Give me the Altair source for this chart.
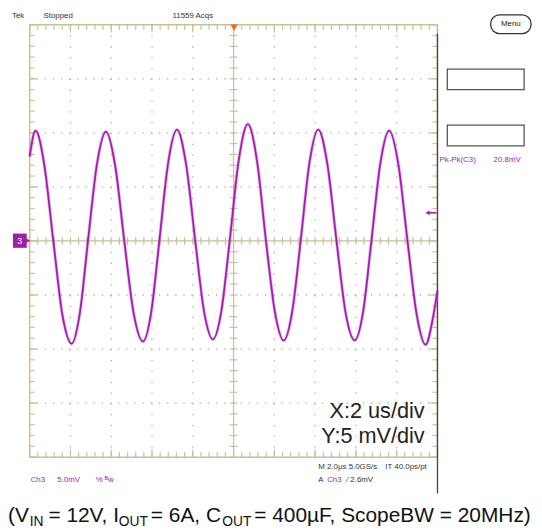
import altair as alt
import pandas as pd

# ---------------- data ----------------
time_us = [0.00, 0.29, 0.72, 1.16, 1.61, 2.06, 2.45, 2.86, 3.30, 3.74, 4.19, 4.64,
           5.10, 5.56, 5.96, 6.36, 6.79, 7.22, 7.67, 8.12, 8.56, 8.99, 9.40, 9.81,
           10.25, 10.70, 11.15, 11.59, 12.03, 12.46, 12.87, 13.29, 13.72, 14.15, 14.60, 15.05,
           15.50, 15.94, 16.35, 16.76, 17.20, 17.63, 18.08, 18.53, 18.98, 19.42, 19.75, 20.00]
volt_mV = [7.8, 10.2, 7.0, 0.0, -6.9, -9.5, -6.8, 0.0, 7.1, 10.1, 7.0, 0.0,
           -6.7, -9.3, -6.6, 0.0, 7.2, 10.3, 7.1, 0.0, -6.6, -9.1, -6.5, 0.0,
           7.4, 10.8, 7.4, 0.0, -6.6, -9.2, -6.6, 0.0, 7.2, 10.3, 7.1, 0.0,
           -6.7, -9.2, -6.6, 0.0, 7.2, 10.2, 7.1, 0.0, -6.8, -9.6, -7.4, -4.6]

x_divisions = [0, 2, 4, 6, 8, 10, 12, 14, 16, 18, 20]          # us, 2 us/div
y_divisions = [-20, -15, -10, -5, 0, 5, 10, 15, 20]            # mV, 5 mV/div
x_minor = [round(0.4 * i, 2) for i in range(51)]              # 5 sub-ticks per div
y_minor = [float(v) for v in range(-20, 21)]
trigger_level_mV = 2.6

W, H = 414, 439
xs = alt.Scale(domain=[0, 20], nice=False, zero=False)
ys = alt.Scale(domain=[-20, 20], nice=False, zero=False)

GRAT = "#c8bf9c"
DOT = "#b3ad98"
MAG = "#a21cae"
SCOPE_FONT = "Liberation Sans, Arial, sans-serif"
ARIAL = "Liberation Sans, Arial, sans-serif"

def one():
    return pd.DataFrame({"a": [0]})

def txt(s, x, y, size=8, color="#333333", font=SCOPE_FONT, align="left",
        baseline="alphabetic", weight="normal"):
    return alt.Chart(pd.DataFrame({"s": [s]})).mark_text(
        align=align, baseline=baseline, font=font, fontSize=size,
        color=color, fontWeight=weight).encode(
        x=alt.value(x), y=alt.value(y), text="s:N")

layers = []

# dotted grid
vdiv = pd.DataFrame({"t": [d for d in x_divisions if d not in (0, 10, 20)]})
hdiv = pd.DataFrame({"v": [d for d in y_divisions if d not in (-20, 0, 20)]})
layers.append(alt.Chart(vdiv).mark_rule(color=DOT, strokeWidth=1.3, strokeDash=[1.3, 9.68]).encode(
    x=alt.X("t:Q", scale=xs, axis=None)))
layers.append(alt.Chart(hdiv).mark_rule(color=DOT, strokeWidth=1.3, strokeDash=[1.3, 6.98]).encode(
    y=alt.Y("v:Q", scale=ys, axis=None)))

# center axes
layers.append(alt.Chart(pd.DataFrame({"t": [10]})).mark_rule(color=GRAT, strokeWidth=1.2).encode(
    x=alt.X("t:Q", scale=xs, axis=None)))
layers.append(alt.Chart(pd.DataFrame({"v": [0]})).mark_rule(color=GRAT, strokeWidth=1.2).encode(
    y=alt.Y("v:Q", scale=ys, axis=None)))

xm = pd.DataFrame({"t": x_minor})
ym = pd.DataFrame({"v": y_minor})
xmaj = pd.DataFrame({"t": x_divisions})
ymaj = pd.DataFrame({"v": y_divisions})
cy = H / 2
cx = W / 2
# ticks on center lines
layers.append(alt.Chart(xm).mark_rule(color=GRAT, strokeWidth=1.2).encode(
    x=alt.X("t:Q", scale=xs, axis=None), y=alt.value(cy - 4), y2=alt.value(cy + 4)))
layers.append(alt.Chart(ym).mark_rule(color=GRAT, strokeWidth=1.2).encode(
    y=alt.Y("v:Q", scale=ys, axis=None), x=alt.value(cx - 4), x2=alt.value(cx + 4)))
# ticks on the edges
for d, L in ((xm, 5), (xmaj, 8)):
    layers.append(alt.Chart(d).mark_rule(color=GRAT, strokeWidth=1.2).encode(
        x=alt.X("t:Q", scale=xs, axis=None), y=alt.value(0), y2=alt.value(L)))
    layers.append(alt.Chart(d).mark_rule(color=GRAT, strokeWidth=1.2).encode(
        x=alt.X("t:Q", scale=xs, axis=None), y=alt.value(H - L), y2=alt.value(H)))
for d, L in ((ym, 5), (ymaj, 8)):
    layers.append(alt.Chart(d).mark_rule(color=GRAT, strokeWidth=1.2).encode(
        y=alt.Y("v:Q", scale=ys, axis=None), x=alt.value(0), x2=alt.value(L)))
    layers.append(alt.Chart(d).mark_rule(color=GRAT, strokeWidth=1.2).encode(
        y=alt.Y("v:Q", scale=ys, axis=None), x=alt.value(W - L), x2=alt.value(W)))

# dark right edge of the screen
layers.append(alt.Chart(one()).mark_rule(color="#444444", strokeWidth=1.3).encode(
    x=alt.value(W), y=alt.value(9), y2=alt.value(476)))

# trace
trace = pd.DataFrame({"t": time_us, "v": volt_mV})
layers.append(alt.Chart(trace).mark_line(color="#c868d0", strokeWidth=3.4, opacity=0.45,
                                         interpolate="monotone").encode(
    x=alt.X("t:Q", scale=xs, axis=None), y=alt.Y("v:Q", scale=ys, axis=None)))
layers.append(alt.Chart(trace).mark_line(color=MAG, strokeWidth=1.8,
                                         interpolate="monotone").encode(
    x=alt.X("t:Q", scale=xs, axis=None), y=alt.Y("v:Q", scale=ys, axis=None)))

# trigger position marker (top) and trigger level arrow (right)
layers.append(alt.Chart(one()).mark_point(shape="triangle-down", filled=True, size=55,
                                          color="#f2691e", opacity=1).encode(
    x=alt.value(207.5), y=alt.value(3)))
lvl = pd.DataFrame({"v": [trigger_level_mV]})
layers.append(alt.Chart(lvl).mark_rule(color=MAG, strokeWidth=1.6).encode(
    y=alt.Y("v:Q", scale=ys, axis=None), x=alt.value(404), x2=alt.value(413)))
layers.append(alt.Chart(lvl).mark_point(shape="triangle-left", filled=True, size=22,
                                        color=MAG, opacity=1).encode(
    y=alt.Y("v:Q", scale=ys, axis=None), x=alt.value(404)))

# channel 3 ground marker
layers.append(alt.Chart(one()).mark_rect(color="#9b1fa8").encode(
    x=alt.value(-17), x2=alt.value(-3), y=alt.value(212), y2=alt.value(226.5)))
layers.append(alt.Chart(one()).mark_point(shape="triangle-right", filled=True, size=22,
                                          color="#9b1fa8", opacity=1).encode(
    x=alt.value(-1.5), y=alt.value(219.2)))
layers.append(txt("3", -10, 219.5, size=9, color="white", baseline="middle", align="center"))

# Menu button and boxes
layers.append(alt.Chart(one()).mark_rect(fill="white", stroke="#333333", strokeWidth=1.3,
                                         cornerRadius=9).encode(
    x=alt.value(468), x2=alt.value(509), y=alt.value(-10), y2=alt.value(9)))
layers.append(txt("Menu", 488.5, -0.5, size=8, color="#222222", align="center", baseline="middle"))
for y1, y2 in ((45, 66), (102, 123)):
    layers.append(alt.Chart(one()).mark_rect(fill="white", stroke="#555555", strokeWidth=1.3).encode(
        x=alt.value(424), x2=alt.value(502), y=alt.value(y1), y2=alt.value(y2)))
layers.append(txt("Pk-Pk(C3)", 416, 137, color=MAG, baseline="middle"))
layers.append(txt("20.8mV", 471, 137, color=MAG, baseline="middle"))

# top status line
layers.append(txt("Tek", -18, -7))
layers.append(txt("Stopped", 14, -7))
layers.append(txt("11559 Acqs", 145, -7))

# bottom status lines
layers.append(txt("Ch3", 1, 464, color=MAG))
layers.append(txt("5.0mV", 28, 464, color=MAG))
layers.append(txt("% ᴮw", 67, 464, color=MAG))
layers.append(txt("M 2.0µs 5.0GS/s", 293, 451))
layers.append(txt("IT 40.0ps/pt", 361, 451))
layers.append(txt("A", 293, 464))
layers.append(txt("Ch3", 302, 464, color=MAG))
layers.append(txt("⁄  2.6mV", 322, 464))

# scale annotation
layers.append(txt("X:2 us/div", 401, 399, size=22, color="#222222", font=ARIAL, align="right"))
layers.append(txt("Y:5 mV/div", 401, 425, size=22, color="#222222", font=ARIAL, align="right"))

# caption with subscripts
cap_y = 505
sub_y = 509
CF, SF = 21.2, 14.0
layers.append(txt("(V", -22, cap_y, size=CF, color="#111111", font=ARIAL))
layers.append(txt("IN", 0, sub_y, size=SF, color="#111111", font=ARIAL))
layers.append(txt("= 12V, I", 19, cap_y, size=CF, color="#111111", font=ARIAL))
layers.append(txt("OUT", 90.5, sub_y, size=SF, color="#111111", font=ARIAL))
layers.append(txt("= 6A, C", 123, cap_y, size=CF, color="#111111", font=ARIAL))
layers.append(txt("OUT", 195.5, sub_y, size=SF, color="#111111", font=ARIAL))
layers.append(txt("= 400µF, ScopeBW = 20MHz)", 228, cap_y, size=CF, color="#111111", font=ARIAL))

chart = alt.layer(*layers).properties(
    width=W, height=H,
    padding={"left": 22, "top": 13, "right": 98, "bottom": 71},
    autosize=alt.AutoSizeParams(type="none"),
    background="white",
).configure_view(stroke=GRAT, strokeWidth=1.5)

chart.save("out.html", embed_options={"renderer": "svg", "actions": False})
